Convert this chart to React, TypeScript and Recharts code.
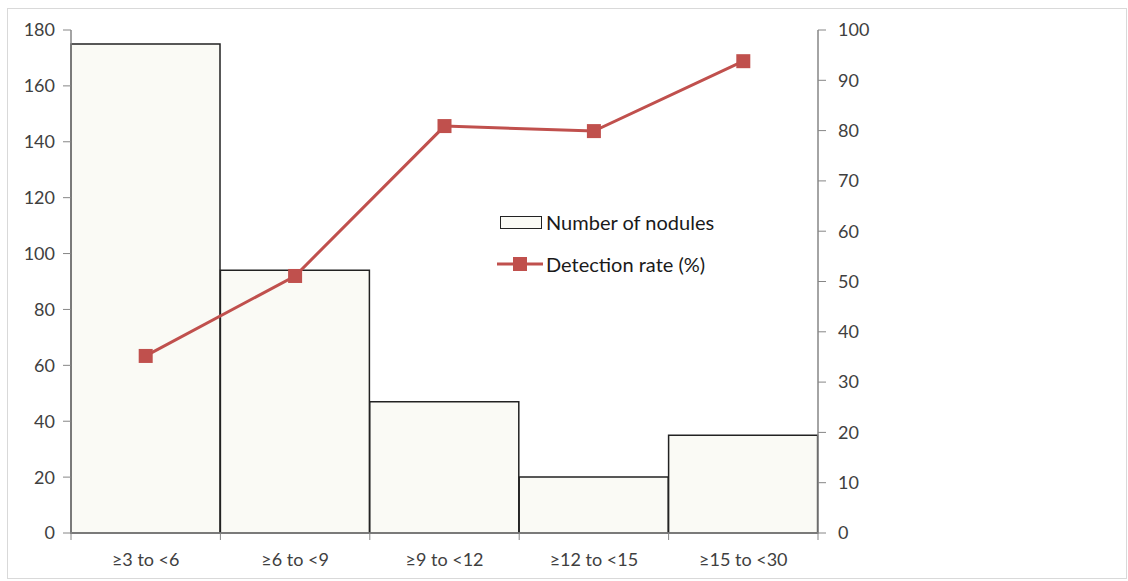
import React from 'react';
import { ComposedChart, Bar, Line, XAxis, YAxis } from 'recharts';

const categories = ['≥3 to <6', '≥6 to <9', '≥9 to <12', '≥12 to <15', '≥15 to <30'];
const noduleCounts = [175, 94, 47, 20, 35];
const detectionRates = [35.2, 51.1, 80.9, 79.9, 93.8];
const leftTicks = [0, 20, 40, 60, 80, 100, 120, 140, 160, 180];
const rightTicks = [0, 10, 20, 30, 40, 50, 60, 70, 80, 90, 100];

const data = categories.map((name, i) => ({
    name,
    nodules: noduleCounts[i],
    rate: detectionRates[i],
}));

const FONT = 'Lato, "Open Sans", sans-serif';
const FS = 18;
const RED = '#c0504d';
const AXIS = '#868686';
const TEXT = '#404040';
const LABEL_GAP = 20;

const SquareDot = (props: any) => {
    const { cx, cy } = props;
    if (cx == null || cy == null) return null;
    return <rect x={cx - 7} y={cy - 7} width={14} height={14} fill={RED} />;
};

// category label + tick marks on the band edges (Excel style)
const CategoryTick = (props: any) => {
    const { x, y, payload, index, visibleTicksCount } = props;
    const half = payload.offset || 0;
    const axisY = y - LABEL_GAP;
    const isLast = index === visibleTicksCount - 1;
    return (
        <g>
            <line x1={x - half} x2={x - half} y1={axisY} y2={axisY + 7} stroke={AXIS} />
            {isLast && <line x1={x + half} x2={x + half} y1={axisY} y2={axisY + 7} stroke={AXIS} />}
            <text x={x} y={y} dy="0.71em" textAnchor="middle" fill={TEXT} fontSize={FS} fontFamily={FONT}>
                {payload.value}
            </text>
        </g>
    );
};

// legend sits inside the plot area, so it's drawn as a plain overlay
const ChartLegend = () => (
    <div style={{ position: 'absolute', left: 497, top: 210, fontFamily: FONT, fontSize: 20, color: '#1a1a1a', lineHeight: '24px' }}>
        <div style={{ display: 'flex', alignItems: 'center', marginBottom: 18 }}>
            <div style={{ width: 40, height: 11, border: '1.5px solid #222', background: '#fafaf5', marginLeft: 3 }} />
            <span style={{ marginLeft: 4 }}>Number of nodules</span>
        </div>
        <div style={{ display: 'flex', alignItems: 'center' }}>
            <svg width={46} height={16}>
                <line x1={0} y1={8} x2={46} y2={8} stroke={RED} strokeWidth={3} />
                <rect x={16} y={1} width={14} height={14} fill={RED} />
            </svg>
            <span style={{ marginLeft: 3 }}>Detection rate (%)</span>
        </div>
    </div>
);

export default function App() {
    return (
        <div style={{ position: 'absolute', left: 0, top: 0, width: 1128, height: 581, background: '#fff' }}>
            <div style={{ position: 'absolute', left: 7, top: 8, width: 1118, height: 569, border: '1px solid #d9d9d9' }} />
            <ComposedChart
                width={1128}
                height={581}
                data={data}
                margin={{ top: 30, right: 0, left: 0, bottom: 0 }}
                barCategoryGap={0}
                barGap={0}
            >
                <XAxis
                    dataKey="name"
                    height={48}
                    axisLine={{ stroke: AXIS, strokeWidth: 1.5 }}
                    tickLine={false}
                    tickSize={0}
                    tickMargin={LABEL_GAP}
                    tick={<CategoryTick />}
                    interval={0}
                />
                <YAxis
                    yAxisId="left"
                    width={71}
                    domain={[0, 180]}
                    ticks={leftTicks}
                    interval={0}
                    axisLine={{ stroke: AXIS, strokeWidth: 1.5 }}
                    tickLine={{ stroke: AXIS }}
                    tickSize={8}
                    tickMargin={8}
                    tick={{ fill: TEXT, fontSize: FS, fontFamily: FONT }}
                />
                <YAxis
                    yAxisId="right"
                    orientation="right"
                    width={310}
                    domain={[0, 100]}
                    ticks={rightTicks}
                    interval={0}
                    axisLine={{ stroke: AXIS, strokeWidth: 1.5 }}
                    tickLine={{ stroke: AXIS }}
                    tickSize={8}
                    tickMargin={12}
                    tick={{ fill: TEXT, fontSize: FS, fontFamily: FONT }}
                />
                <Bar
                    yAxisId="left"
                    dataKey="nodules"
                    name="Number of nodules"
                    fill="#fafaf5"
                    stroke="#222"
                    strokeWidth={1.5}
                    isAnimationActive={false}
                />
                <Line
                    yAxisId="right"
                    dataKey="rate"
                    name="Detection rate (%)"
                    stroke={RED}
                    strokeWidth={3}
                    dot={<SquareDot />}
                    activeDot={false}
                    isAnimationActive={false}
                />
            </ComposedChart>
            <ChartLegend />
        </div>
    );
}
